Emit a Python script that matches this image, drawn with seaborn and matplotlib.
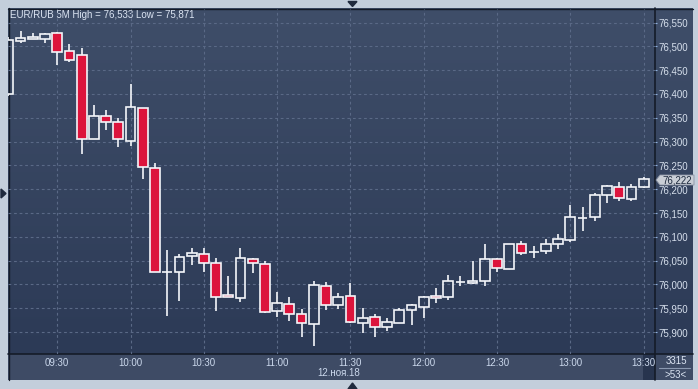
import numpy as np
import pandas as pd
import matplotlib
matplotlib.use('Agg')
import matplotlib.pyplot as plt
from matplotlib.colors import LinearSegmentedColormap
from matplotlib.patches import Polygon, Rectangle
from matplotlib.ticker import FuncFormatter
import seaborn as sns

# 5-minute bars, 12 Nov 2018
times = pd.date_range('2018-11-12 09:10', '2018-11-12 13:30', freq='5min')

opens = [76.399, 76.512, 76.516, 76.516, 76.528, 76.490, 76.481, 76.305, 76.354, 76.342,
         76.302, 76.370, 76.244, 76.027, 76.026, 76.059, 76.065, 76.046, 75.977, 75.971,
         76.053, 76.044, 75.945, 75.960, 75.937, 75.917, 75.996, 75.957, 75.975, 75.920,
         75.931, 75.910, 75.920, 75.947, 75.953, 75.975, 75.973, 76.006, 76.004, 76.008,
         76.053, 76.033, 76.086, 76.068, 76.071, 76.085, 76.094, 76.140, 76.141, 76.187,
         76.204, 76.179, 76.205]
highs = [76.520, 76.533, 76.529, 76.529, 76.530, 76.505, 76.497, 76.377, 76.366, 76.349,
         76.420, 76.370, 76.255, 76.072, 76.065, 76.076, 76.076, 76.055, 76.017, 76.076,
         76.055, 76.049, 75.984, 75.973, 75.948, 76.007, 76.005, 75.982, 76.003, 75.950,
         75.937, 75.929, 75.950, 75.958, 75.975, 75.992, 76.019, 76.017, 76.050, 76.086,
         76.055, 76.086, 76.092, 76.080, 76.095, 76.107, 76.167, 76.162, 76.193, 76.208,
         76.215, 76.210, 76.225]
lows = [76.395, 76.508, 76.516, 76.508, 76.461, 76.468, 76.274, 76.305, 76.324, 76.289,
        76.291, 76.222, 76.026, 75.934, 75.965, 76.041, 76.026, 75.945, 75.973, 75.963,
        76.024, 75.940, 75.931, 75.924, 75.889, 75.871, 75.946, 75.948, 75.920, 75.898,
        75.890, 75.903, 75.920, 75.914, 75.929, 75.962, 75.968, 75.997, 76.001, 75.996,
        76.026, 76.033, 76.062, 76.056, 76.064, 76.075, 76.089, 76.113, 76.134, 76.171,
        76.176, 76.176, 76.202]
closes = [76.513, 76.517, 76.519, 76.526, 76.489, 76.472, 76.305, 76.354, 76.342, 76.305,
          76.372, 76.246, 76.026, 76.027, 76.057, 76.067, 76.045, 75.974, 75.973, 76.055,
          76.045, 75.942, 75.962, 75.938, 75.919, 75.998, 75.957, 75.973, 75.922, 75.929,
          75.910, 75.922, 75.947, 75.956, 75.973, 75.971, 76.008, 76.006, 76.008, 76.053,
          76.034, 76.086, 76.066, 76.068, 76.086, 76.095, 76.141, 76.140, 76.187, 76.206,
          76.181, 76.204, 76.222]

title = 'EUR/RUB 5M High = 76,533 Low = 75,871'
y_ticks = [75.90, 75.95, 76.00, 76.05, 76.10, 76.15, 76.20, 76.25, 76.30,
           76.35, 76.40, 76.45, 76.50, 76.55]
x_labels = ['09:30', '10:00', '10:30', '11:00', '11:30', '12:00', '12:30', '13:00', '13:30']
date_label = '12.ноя.18'
last_price = '76,222'
bar_count = '3315'
bar_marker = '>53<'

df = pd.DataFrame({'time': times, 'open': opens, 'high': highs, 'low': lows, 'close': closes})
df['idx'] = np.arange(len(df))
df['down'] = df['close'] < df['open']
df['body_lo'] = df[['open', 'close']].min(axis=1)
df['body_hi'] = df[['open', 'close']].max(axis=1)
df['body_h'] = df['body_hi'] - df['body_lo']

sns.set_style('dark')
plt.rcParams['font.family'] = ['Liberation Sans', 'DejaVu Sans']

W, H = 698, 389
fig = plt.figure(figsize=(W / 100, H / 100), dpi=100)
fig.patch.set_facecolor('#c3cedb')

# background panel drawn in pixel coordinates
bg = fig.add_axes([0, 0, 1, 1], zorder=0)
bg.set_xlim(0, W)
bg.set_ylim(H, 0)
bg.axis('off')
cmap = LinearSegmentedColormap.from_list('panel', ['#3f4e69', '#2c3a56'])
bg.imshow(np.linspace(0, 1, 256).reshape(-1, 1), extent=[8, 693, 354, 8],
          cmap=cmap, aspect='auto', interpolation='bilinear')
bg.add_patch(Rectangle((8, 354), 685, 26, color='#3e4b65', lw=0))
bg.add_patch(Rectangle((643, 354), 12, 26, color='#27344e', lw=0))
edge = '#141b28'
bg.plot([8, 693], [8.5, 8.5], color=edge, lw=1)
bg.plot([8.5, 8.5], [8, 380], color=edge, lw=1)
bg.plot([8, 693], [354, 354], color=edge, lw=1.2)
bg.plot([655, 655], [8, 380], color=edge, lw=1.2)
tri = '#1f2a3d'
bg.add_patch(Polygon([(348, 1.5), (357, 1.5), (352.5, 6.5)], color=tri))
bg.add_patch(Polygon([(348, 389), (357, 389), (352.5, 383)], color=tri))
bg.add_patch(Polygon([(1, 189), (1, 198), (6, 193.5)], color=tri))

txt = '#dbe4f2'
bg.text(10, 14.5, title, ha='left', va='center', fontsize=7, color=txt)
bg.text(338.7, 373.5, date_label, ha='center', va='center', fontsize=7, color='#cbd8ec')
bg.text(676, 361.5, bar_count, ha='center', va='center', fontsize=7, color=txt)
bg.plot([659, 690], [368.3, 368.3], color='#8a98b0', lw=0.8)
bg.text(676, 374.5, bar_marker, ha='center', va='center', fontsize=7, color=txt)

# main price axes
ax = fig.add_axes([8 / W, 1 - 354 / H, (655 - 8) / W, (354 - 8.7) / H], zorder=1)
ax.set_facecolor('none')
ax.set_xlim(-0.03, 52.93)
ax.set_ylim(75.854, 76.579)

tick_idx = [df.index[df['time'].dt.strftime('%H:%M') == t][0] for t in x_labels]
ax.set_xticks(tick_idx)
ax.set_xticklabels(x_labels)
ax.set_yticks(y_ticks)
ax.yaxis.set_major_formatter(FuncFormatter(lambda v, p: f'{v:.3f}'.replace('.', ',')))
ax.yaxis.tick_right()
ax.tick_params(axis='x', length=0, pad=2.8, labelsize=7, colors='#cbd8ec')
ax.tick_params(axis='y', length=1.5, width=0.8, pad=1.2, labelsize=7,
               colors='#8fb0dc', labelcolor='#d6dfec')
ax.grid(True, color='#5a6986', lw=0.8, linestyle=(0, (2.5, 2.5)))
for s in ax.spines.values():
    s.set_visible(False)

red = '#dc143c'
white = '#f4f6fa'
ax.vlines(df['idx'], df['low'], df['body_lo'], color=white, lw=1.2, zorder=2)
ax.vlines(df['idx'], df['body_hi'], df['high'], color=white, lw=1.2, zorder=2)
ax.bar(df['idx'], df['body_h'], bottom=df['body_lo'], width=0.8,
       color=np.where(df['down'], red, 'none'), edgecolor=white, linewidth=1.2, zorder=3)

# last price marker
bg.add_patch(Polygon([(656, 180), (660, 175), (694, 175), (694, 185), (660, 185)],
                     facecolor='#c9ced6', edgecolor='#8a92a3', lw=0.6, zorder=5))
bg.text(677, 180, last_price, ha='center', va='center', fontsize=7, color='#1e2a3e', zorder=6)

fig.savefig('out.png', dpi=100, facecolor=fig.get_facecolor())
